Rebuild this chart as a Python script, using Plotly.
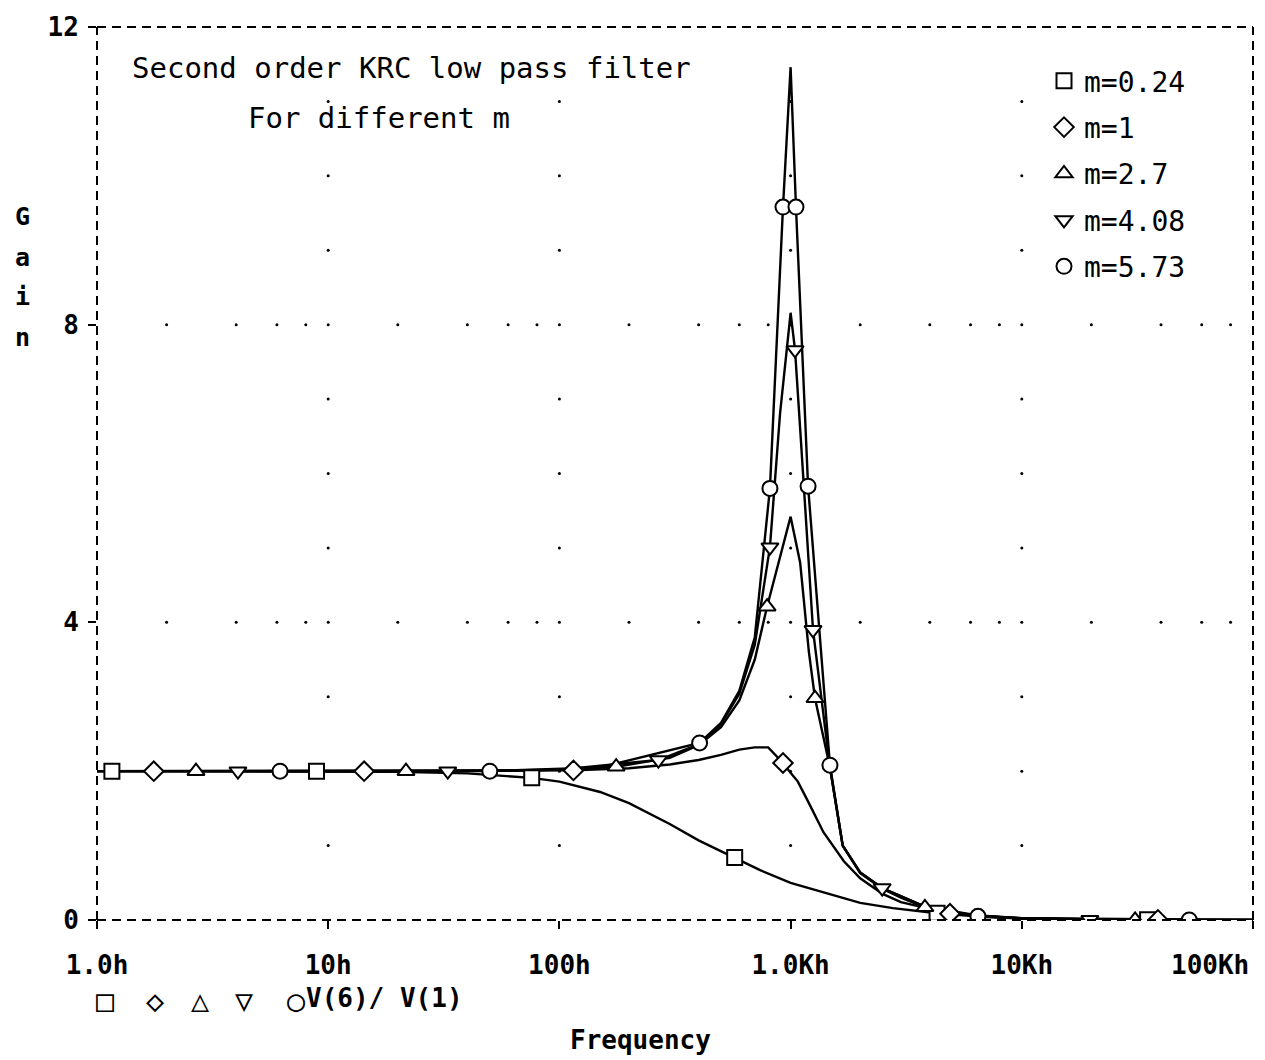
import plotly.graph_objects as go

# ---------------- data ----------------
tick_vals = [1, 10, 100, 1000, 10000, 100000]
tick_text = ["1.0h", "10h", "100h", "1.0Kh", "10Kh", "100Kh"]
y_ticks = [0, 4, 8, 12]

names = ["m=0.24", "m=1", "m=2.7", "m=4.08", "m=5.73"]
symbols = ["square", "diamond", "triangle-up", "triangle-down", "circle"]

freq_024 = [1, 1.16, 3, 8.9, 20, 40, 75.9, 100, 150, 200, 300, 400, 573, 738,
            1000, 1436, 2000, 2770, 4300, 7000, 10000, 35000, 100000]
gain_024 = [2.0, 2.0, 2.0, 2.0, 1.99, 1.97, 1.91, 1.86, 1.72, 1.57, 1.29, 1.07, 0.84, 0.67,
            0.50, 0.36, 0.23, 0.16, 0.09, 0.04, 0.02, 0.002, 0.0]
mark_024 = [1.16, 8.9, 75.9, 573, 4300, 35000]

freq_1 = [1, 1.76, 14.3, 50, 115, 200, 300, 400, 500, 600, 700, 800, 927, 1000, 1075,
          1200, 1387, 1700, 2000, 2500, 3000, 4890, 10000, 38800, 100000]
gain_1 = [2.0, 2.0, 2.0, 2.0, 2.01, 2.04, 2.09, 2.15, 2.22, 2.29, 2.32, 2.32, 2.11, 1.98, 1.86,
          1.57, 1.18, 0.79, 0.56, 0.35, 0.24, 0.085, 0.02, 0.0013, 0.0]
mark_1 = [1.76, 14.3, 115, 927, 4890, 38800]

freq_27 = [1, 2.68, 21.7, 80, 176, 300, 400, 500, 600, 700, 791, 1000, 1100, 1200, 1275,
           1480, 1680, 2000, 2490, 3000, 3810, 6000, 10000, 30900, 100000]
gain_27 = [2.0, 2.0, 2.0, 2.01, 2.06, 2.18, 2.35, 2.59, 2.95, 3.50, 4.21, 5.42, 4.8, 3.6, 2.98,
           2.05, 1.0, 0.63, 0.42, 0.3, 0.17, 0.06, 0.02, 0.002, 0.0]
mark_27 = [2.68, 21.7, 176, 791, 1275, 3810, 30900]

freq_408 = [1, 4.07, 32.9, 100, 268, 400, 500, 600, 700, 814, 900, 1000, 1045, 1100, 1250,
            1480, 1680, 2000, 2490, 3810, 6460, 10000, 19700, 100000]
gain_408 = [2.0, 2.0, 2.0, 2.02, 2.15, 2.36, 2.63, 3.04, 3.7, 5.01, 6.8, 8.16, 7.66, 6.6, 3.9,
            2.05, 1.0, 0.64, 0.43, 0.18, 0.06, 0.025, 0.005, 0.0]
mark_408 = [4.07, 32.9, 268, 814, 1045, 1250, 2490, 19700]

freq_573 = [1, 6.19, 50, 150, 404, 500, 600, 700, 814, 927, 1000, 1055, 1190, 1480, 1680,
            2000, 2490, 3810, 6460, 10000, 53000, 100000]
gain_573 = [2.0, 2.0, 2.0, 2.05, 2.38, 2.65, 3.08, 3.8, 5.8, 9.58, 11.46, 9.58, 5.83, 2.08, 1.0,
            0.64, 0.43, 0.18, 0.05, 0.025, 0.001, 0.0]
mark_573 = [6.19, 50, 404, 814, 927, 1055, 1190, 1480, 6460, 53000]

series = [
    (freq_024, gain_024, mark_024),
    (freq_1, gain_1, mark_1),
    (freq_27, gain_27, mark_27),
    (freq_408, gain_408, mark_408),
    (freq_573, gain_573, mark_573),
]

title_line1 = "Second order KRC low pass filter"
title_line2 = "For different m"
x_title = "Frequency"
y_title = "Gain"
trace_label = "V(6)/ V(1)"
bottom_symbols = ["\u25A1", "\u25C7", "\u25B3", "\u25BD", "\u25CB"]

MONO = "DejaVu Sans Mono"
fig = go.Figure()

# dotted grid (decade verticals, rows at 4 and 8)
gx, gy = [], []
for d in [10, 100, 1000, 10000]:
    for yv in range(1, 12):
        gx.append(d); gy.append(yv)
for yv in [4, 8]:
    for n in range(5):
        for k in [2, 4, 6, 8]:
            gx.append(k * 10 ** n); gy.append(yv)
fig.add_trace(go.Scatter(x=gx, y=gy, mode="markers", showlegend=False, hoverinfo="skip",
                         marker=dict(size=3, color="black")))

# curves
for (f, g, mk), nm, sym in zip(series, names, symbols):
    fig.add_trace(go.Scatter(x=f, y=g, mode="lines", showlegend=False,
                             line=dict(color="black", width=2.4)))
for i, ((f, g, mk), nm, sym) in enumerate(zip(series, names, symbols)):
    mg = [g[f.index(v)] for v in mk]
    fig.add_trace(go.Scatter(x=mk, y=mg, mode="markers", name=nm, legendgroup=f"g{i}",
                             marker=dict(symbol=sym, size=15, color="white",
                                         line=dict(color="black", width=2))))

# dashed frame
dash = "9px,6px"
for x0, y0, x1, y1 in [(0, 0, 1, 0), (0, 1, 1, 1), (0, 0, 0, 1), (1, 0, 1, 1)]:
    fig.add_shape(type="line", xref="paper", yref="paper", x0=x0, y0=y0, x1=x1, y1=y1,
                  line=dict(color="black", width=2, dash=dash), layer="above")

# the last tick label sits left of its tick in the reference: drawn as an annotation
tick_text_drawn = tick_text[:-1] + [""]

tick_font = dict(family=MONO, size=26, color="black", weight="bold")
fig.update_xaxes(type="log", range=[0, 5], tickvals=tick_vals, ticktext=tick_text_drawn,
                 showgrid=False, zeroline=False, showline=False, automargin=False,
                 ticks="outside", ticklen=8, tickwidth=2, tickcolor="black",
                 tickfont=tick_font, ticklabelstandoff=14)
fig.update_yaxes(range=[0, 12], tickvals=y_ticks, showgrid=False, zeroline=False,
                 showline=False, automargin=False, ticks="outside", ticklen=8, tickwidth=2,
                 tickcolor="black", tickfont=tick_font, ticklabelstandoff=4)

anns = []
thin = dict(family=MONO, size=29, color="black")
anns.append(dict(text=title_line1, x=130, y=68, xanchor="left", yanchor="middle", font=thin))
anns.append(dict(text=title_line2, x=246, y=118, xanchor="left", yanchor="middle", font=thin))
for i, ch in enumerate(y_title):
    anns.append(dict(text=ch, x=22, y=217 + 40 * i, xanchor="center", yanchor="middle",
                     font=dict(family=MONO, size=25, color="black", weight="bold")))
anns.append(dict(text=x_title, x=640, y=1040, xanchor="center", yanchor="middle",
                 font=dict(family=MONO, size=26, color="black", weight="bold")))
anns.append(dict(text=tick_text[-1], x=1251, y=965, xanchor="right", yanchor="middle",
                 font=tick_font))
for sx, s in zip([105, 155, 200, 244, 296], bottom_symbols):
    anns.append(dict(text=s, x=sx, y=1000, xanchor="center", yanchor="middle",
                     font=dict(family=MONO, size=30, color="black")))
anns.append(dict(text=trace_label, x=304, y=998, xanchor="left", yanchor="middle",
                 font=dict(family=MONO, size=26, color="black", weight="bold")))

W, H = 1265, 1060
L, R, T, B = 97, 12, 27, 140
for a in anns:
    a["xref"] = "paper"; a["yref"] = "paper"; a["showarrow"] = False
    a["x"] = (a["x"] - L) / (W - L - R)
    a["y"] = 1 - (a["y"] - T) / (H - T - B)

fig.update_layout(
    width=W, height=H, margin=dict(l=L, r=R, t=T, b=B, autoexpand=False),
    paper_bgcolor="white", plot_bgcolor="white",
    annotations=anns,
    legend=dict(x=(1044 - L) / (W - L - R), y=1 - (56 - T) / (H - T - B),
                xanchor="left", yanchor="top", bgcolor="rgba(0,0,0,0)",
                font=dict(family=MONO, size=28, color="black"),
                tracegroupgap=7, itemwidth=30),
)

fig.write_html("out.html")
